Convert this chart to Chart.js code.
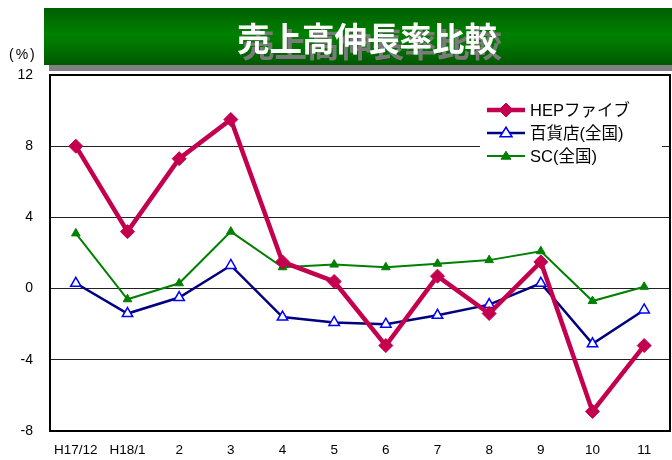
<!DOCTYPE html>
<html><head><meta charset="utf-8">
<script src="https://cdn.jsdelivr.net/npm/chart.js@4/dist/chart.umd.min.js"></script>
<style>
html,body{margin:0;padding:0;background:#fff;}
#wrap{position:relative;width:672px;height:460px;}
#banner{position:absolute;left:44px;top:8px;width:628px;height:57px;
 background:linear-gradient(to bottom,#005e00 0%,#008000 45%,#007a00 60%,#005800 100%);
 color:#fff;font:bold 32.5px "Noto Sans CJK JP",sans-serif;text-align:center;line-height:57px;
 text-shadow:5px 6px 0 #7a7a7a;}
#shadow{position:absolute;left:49px;top:65px;width:623px;height:6px;background:#808080;}
#pct{position:absolute;left:9px;top:46px;font:14px "Liberation Sans",Arial,sans-serif;color:#000;letter-spacing:2px;}
canvas{position:absolute;left:0;top:0;}
</style></head>
<body><div id="wrap">
<canvas id="c" width="672" height="460"></canvas>
<div id="shadow"></div>
<div id="banner"><span style="position:relative;left:9px">売上高伸長率比較</span></div>
<div id="pct">(%)</div>
</div>
<script>
const categories = ["H17/12","H18/1","2","3","4","5","6","7","8","9","10","11"];
const hepValues = [8.0, 3.2, 7.3, 9.5, 1.5, 0.4, -3.2, 0.7, -1.4, 1.5, -6.9, -3.2];
const deptValues = [0.3, -1.4, -0.5, 1.3, -1.6, -1.9, -2.0, -1.5, -0.9, 0.3, -3.1, -1.2];
const scValues = [3.1, -0.6, 0.3, 3.2, 1.2, 1.35, 1.2, 1.4, 1.6, 2.1, -0.7, 0.1];
const seriesNames = ["HEPファイブ","百貨店(全国)","SC(全国)"];
const yTicks = {min:-8, max:12, step:4};

const FONT = '"Liberation Sans", Arial, "Noto Sans CJK JP", sans-serif';

function drawMarker(ctx, style, x, y, r, fill, stroke, lw){
  ctx.save();
  ctx.beginPath();
  if(style==='rectRot'){
    ctx.moveTo(x, y-r); ctx.lineTo(x+r, y); ctx.lineTo(x, y+r); ctx.lineTo(x-r, y); ctx.closePath();
  } else {
    const h = r*1.6;
    ctx.moveTo(x, y-h*0.6); ctx.lineTo(x+r, y+h*0.4); ctx.lineTo(x-r, y+h*0.4); ctx.closePath();
  }
  ctx.fillStyle = fill; ctx.fill();
  ctx.lineWidth = lw; ctx.strokeStyle = stroke; ctx.stroke();
  ctx.restore();
}

const boxLegend = {
  id:'boxLegend',
  afterDatasetsDraw(chart){
    const ctx = chart.ctx, a = chart.chartArea;
    ctx.save();
    ctx.strokeStyle = '#000'; ctx.lineWidth = 2;
    ctx.strokeRect(a.left, a.top, a.right-a.left, a.bottom-a.top);
    ctx.fillStyle = '#fff';
    ctx.fillRect(480, 96, 182, 72);
    const rows = [110, 133, 156];
    const ds = chart.data.datasets;
    ds.forEach((d, i) => {
      const y = rows[i];
      ctx.beginPath();
      ctx.moveTo(487, y); ctx.lineTo(525, y);
      ctx.strokeStyle = d.borderColor; ctx.lineWidth = d.borderWidth; ctx.stroke();
      drawMarker(ctx, d.pointStyle, 506, y, d.legendR, d.pointBackgroundColor, d.pointBorderColor, d.pointBorderWidth);
      ctx.fillStyle = '#000';
      ctx.font = '16.5px ' + FONT;
      ctx.textBaseline = 'middle'; ctx.textAlign = 'left';
      ctx.fillText(d.label, 530, y+1);
    });
    ctx.restore();
  }
};

new Chart(document.getElementById('c'), {
  type:'line',
  data:{
    labels:categories,
    datasets:[
      {label:seriesNames[0], data:hepValues, borderColor:'#c4004e', borderWidth:4.5,
       pointStyle:'rectRot', pointRadius:7, pointHoverRadius:7, pointBackgroundColor:'#c4004e',
       pointBorderColor:'#c4004e', pointBorderWidth:1, legendR:7, tension:0},
      {label:seriesNames[1], data:deptValues, borderColor:'#000080', borderWidth:2.5,
       pointStyle:'triangle', pointRadius:6, pointHoverRadius:6, pointBackgroundColor:'#ffffff',
       pointBorderColor:'#0000ff', pointBorderWidth:1.5, legendR:6, tension:0},
      {label:seriesNames[2], data:scValues, borderColor:'#008000', borderWidth:2,
       pointStyle:'triangle', pointRadius:5, pointHoverRadius:5, pointBackgroundColor:'#008000',
       pointBorderColor:'#008000', pointBorderWidth:1, legendR:5, tension:0}
    ]
  },
  options:{
    responsive:false, animation:false,
    layout:{autoPadding:false, padding:{top:75, right:2, left:0, bottom:0}},
    plugins:{legend:{display:false}, tooltip:{enabled:false}, title:{display:false}},
    scales:{
      x:{
        offset:true,
        grid:{display:false, drawTicks:false},
        border:{display:false},
        ticks:{color:'#000', font:{family:FONT, size:13.5}, padding:11, maxRotation:0, autoSkip:false},
        afterFit(s){ s.height = 29; s.paddingLeft = 0; s.paddingRight = 0; }
      },
      y:{
        min:yTicks.min, max:yTicks.max,
        grid:{drawTicks:false, lineWidth:1,
          color:(c)=> (c.tick && (c.tick.value===yTicks.min || c.tick.value===yTicks.max)) ? 'rgba(0,0,0,0)' : '#222'},
        border:{display:false},
        ticks:{stepSize:yTicks.step, color:'#000', font:{family:FONT, size:14}, padding:17},
        afterFit(s){ s.width = 50; }
      }
    }
  },
  plugins:[boxLegend]
});
</script>
</body></html>
